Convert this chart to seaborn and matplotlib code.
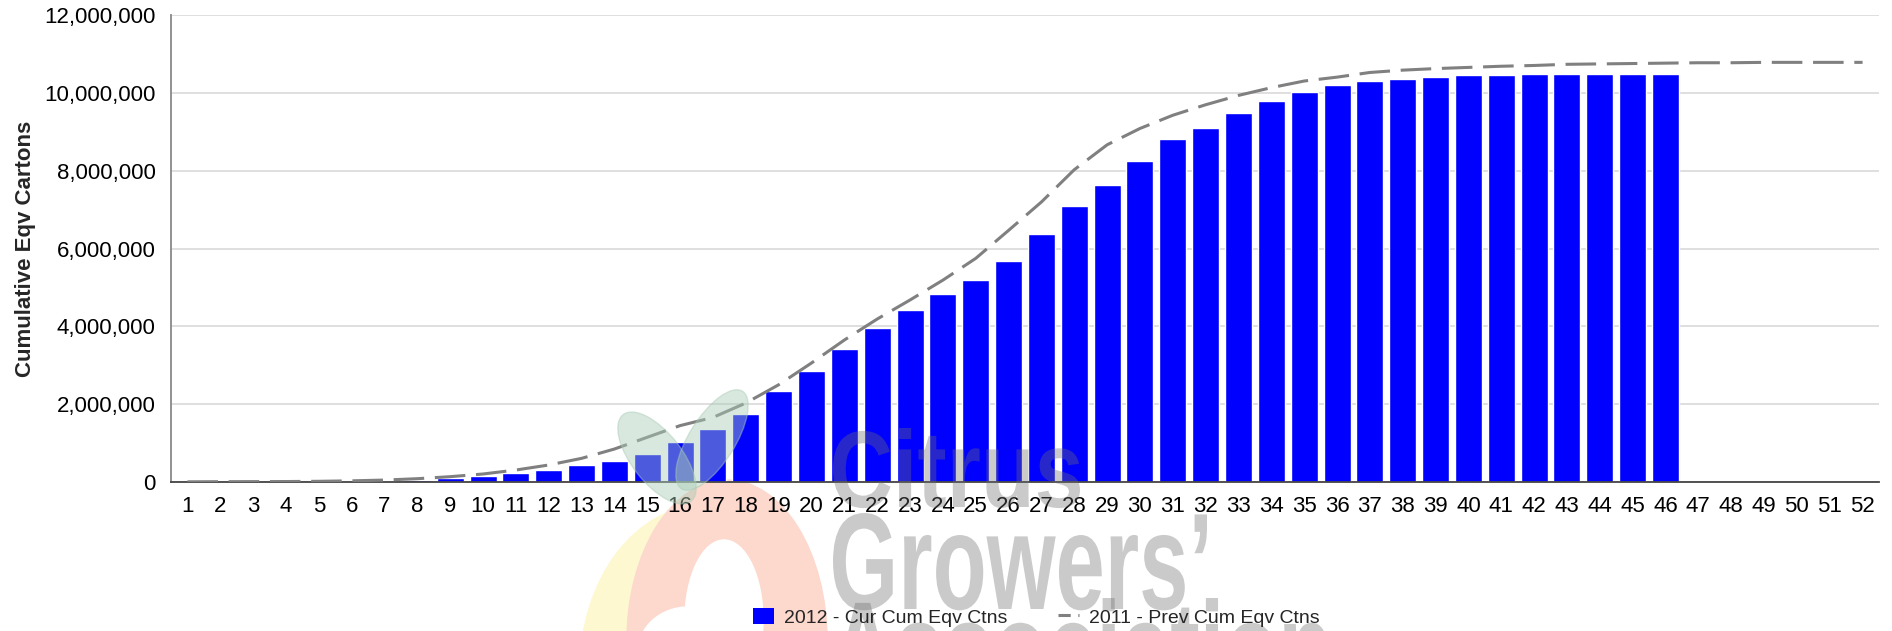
import numpy as np
import pandas as pd
import seaborn as sns
import matplotlib.pyplot as plt
from matplotlib.patches import Patch, Ellipse, PathPatch
from matplotlib.lines import Line2D
from matplotlib.ticker import FuncFormatter
from matplotlib.textpath import TextPath
from matplotlib.font_manager import FontProperties
from matplotlib.transforms import Affine2D

# Weeks 1-52, current season only runs to week 46
weeks = [str(w) for w in range(1, 53)]

cur_2012 = [5e3, 5e3, 8e3, 10e3, 12e3, 20e3, 30e3, 50e3, 100e3, 160e3,
            240e3, 317e3, 446e3, 540e3, 728e3, 1.03e6, 1.37e6, 1.75e6, 2.34e6, 2.85e6,
            3.42e6, 3.96e6, 4.42e6, 4.83e6, 5.19e6, 5.69e6, 6.38e6, 7.10e6, 7.63e6, 8.25e6,
            8.82e6, 9.10e6, 9.49e6, 9.80e6, 10.03e6, 10.21e6, 10.31e6, 10.36e6, 10.41e6, 10.46e6,
            10.46e6, 10.49e6, 10.49e6, 10.49e6, 10.49e6, 10.49e6]

prev_2011 = [5e3, 8e3, 10e3, 12e3, 18e3, 30e3, 50e3, 85e3, 137e3, 206e3,
             308e3, 437e3, 608e3, 848e3, 1.15e6, 1.45e6, 1.66e6, 2.03e6, 2.50e6, 3.06e6,
             3.65e6, 4.19e6, 4.68e6, 5.19e6, 5.75e6, 6.47e6, 7.20e6, 8.03e6, 8.67e6, 9.09e6,
             9.43e6, 9.70e6, 9.94e6, 10.14e6, 10.31e6, 10.41e6, 10.53e6, 10.59e6, 10.63e6, 10.66e6,
             10.69e6, 10.71e6, 10.74e6, 10.75e6, 10.76e6, 10.77e6, 10.78e6, 10.78e6, 10.79e6, 10.79e6,
             10.79e6, 10.79e6]

df = pd.DataFrame({
    "week": weeks,
    "cur": cur_2012 + [np.nan] * (len(weeks) - len(cur_2012)),
    "prev": prev_2011,
})

sns.set_style("white")
plt.rcParams["font.family"] = ["Liberation Sans", "DejaVu Sans"]

fig = plt.figure(figsize=(18.92, 6.31), dpi=100)
ax = fig.add_axes([171 / 1892, 1 - 482 / 631, 1708 / 1892, (482 - 15.3) / 631])

# logo watermark, background part
wm = fig.add_axes([0, 0, 1, 1], zorder=-1)
wm.set_xlim(0, 1892)
wm.set_ylim(631, 0)
wm.axis("off")
wm.add_patch(Ellipse((705, 670), 250, 330, color="#fdf8d0"))
wm.add_patch(Ellipse((727, 640), 200, 320, color="#fcd8cd"))
wm.add_patch(Ellipse((724, 620), 78, 160, color="white"))
wm.add_patch(Ellipse((688, 652), 100, 90, color="white"))
ax.patch.set_alpha(0)

sns.barplot(data=df, x="week", y="cur", order=weeks, color="#0000FF",
            width=0.82, saturation=1, ax=ax, zorder=2)
sns.pointplot(data=df, x="week", y="prev", order=weeks, color="#808080",
              errorbar=None, marker="", linestyle=(0, (10, 3.5)),
              linewidth=2.2, ax=ax, zorder=3)

ax.set_xlim(-0.5, len(weeks) - 0.5)
ax.set_ylim(0, 12e6)
ax.set_yticks(np.arange(0, 12e6 + 1, 2e6))
ax.yaxis.set_major_formatter(FuncFormatter(lambda v, p: f"{int(v):,}"))
ax.grid(axis="y", color="#d9d9d9", linewidth=1.2, zorder=0)
ax.set_axisbelow(True)
for s in ["top", "right"]:
    ax.spines[s].set_visible(False)
ax.spines["left"].set_color("#888888")
ax.spines["left"].set_linewidth(1.3)
ax.spines["bottom"].set_color("#444444")
ax.spines["bottom"].set_linewidth(1.3)
ax.tick_params(axis="both", length=0, colors="black")
ax.tick_params(axis="y", labelsize=16, pad=11)
ax.tick_params(axis="x", labelsize=16, pad=10)
ax.set_xlabel("")
ax.set_ylabel("Cumulative Eqv Cartons", fontsize=16, fontweight="bold")
ax.yaxis.set_label_coords(-0.079, 0.5)

# logo watermark, foreground part (leaves + lettering)
fg = fig.add_axes([0, 0, 1, 1], zorder=5)
fg.set_xlim(0, 1892)
fg.set_ylim(631, 0)
fg.axis("off")
fg.add_patch(Ellipse((657, 458), 50, 110, angle=-38, color="#a9ccb6", alpha=0.45))
fg.add_patch(Ellipse((712, 440), 46, 115, angle=32, color="#a9ccb6", alpha=0.45))

wm_font = FontProperties(family="Liberation Sans", weight="bold")


def stamp(text, x0, ytop, ybase, x1=None, sx=None):
    tp = TextPath((0, 0), text, size=100, prop=wm_font)
    ext = tp.get_extents()
    sy = (ybase - ytop) / ext.y1
    if sx is None:
        sx = (x1 - x0) / ext.width
    tr = Affine2D().translate(-ext.x0, 0).scale(sx, -sy).translate(x0, ybase)
    fg.add_patch(PathPatch(tr.transform_path(tp), facecolor="#6e6e6e",
                           edgecolor="none", alpha=0.36))
    return sx


stamp("Citrus", 833, 428, 507, x1=1080)
g_sx = stamp("Growers\u2019", 833, 513, 609, x1=1207)
stamp("Association", 833, 598, 694, sx=g_sx)

handles = [
    Patch(facecolor="#0000FF", edgecolor="none", label="2012 - Cur Cum Eqv Ctns"),
    Line2D([0], [0], color="#808080", linewidth=2.2, linestyle=(0, (4, 2.5)),
           label="2011 - Prev Cum Eqv Ctns"),
]
leg = fig.legend(handles=handles, loc="center", bbox_to_anchor=(1036 / 1892, 0.022), ncol=2,
                 frameon=False, handlelength=1.1, handleheight=0.9, handletextpad=0.5,
                 columnspacing=2.6, prop={"size": 14})
leg.set_zorder(10)

fig.savefig("out.png", dpi=100)
